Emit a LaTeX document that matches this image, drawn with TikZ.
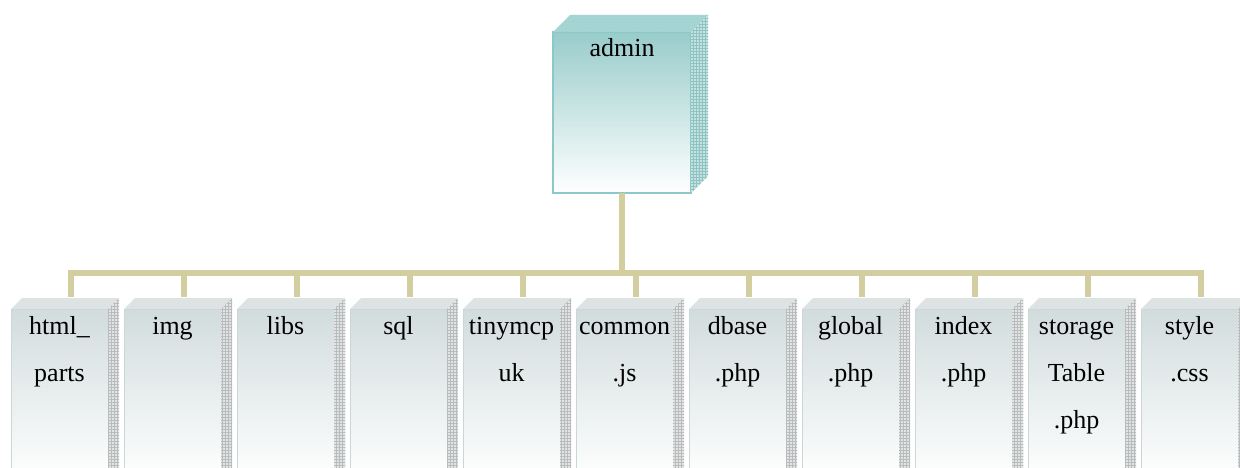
\documentclass[tikz,border=0pt]{standalone}
\usepackage{fontspec}
\setmainfont{Liberation Serif}
\usetikzlibrary{patterns,calc}
\definecolor{bus}{HTML}{D2CEA0}
\definecolor{admtop}{HTML}{98CCCB}
\definecolor{admedge}{HTML}{8CC8C7}
\definecolor{admface}{HTML}{A3D3D2}
\definecolor{admside}{HTML}{C4E2E1}
\definecolor{admpat}{HTML}{8FC3C2}
\definecolor{kidtop}{HTML}{D2DCDD}
\definecolor{kidedge}{HTML}{CBD6D7}
\definecolor{kidface}{HTML}{DDE3E3}
\definecolor{kidside}{HTML}{E2E4E4}
\definecolor{kidpat}{HTML}{B8BCBC}
\tikzset{
  conn/.style={draw=bus, line width=6pt, line join=miter},
  adminbox/.style={draw=admedge, line width=1.5pt, top color=admtop, bottom color=white,
     minimum width=138pt, minimum height=161pt, anchor=north west, inner sep=0pt, outer sep=0pt},
  kidbox/.style={draw=kidedge, line width=1pt, top color=kidtop, bottom color=white,
     minimum width=97pt, minimum height=172pt, anchor=north west, inner sep=0pt, outer sep=0pt},
  lbl/.style={anchor=base, inner sep=0pt, font=\fontsize{26}{47}\selectfont},
}
\newcommand{\boxfaces}[6]{% name, depth, topfill, sidefill, edge, pattern colour
  \fill[#3] (#1.north west) -- ++(#2,-#2) -- ($(#1.north east)+(#2,-#2)$) -- (#1.north east) -- cycle;
  \fill[pattern=dots, pattern color=#5!50] (#1.north west) -- ++(#2,-#2) -- ($(#1.north east)+(#2,-#2)$) -- (#1.north east) -- cycle;
  \fill[#4] (#1.north east) -- ++(#2,-#2) -- ($(#1.south east)+(#2,-#2)$) -- (#1.south east) -- cycle;
  \fill[pattern=grid, pattern color=#6] (#1.north east) -- ++(#2,-#2) -- ($(#1.south east)+(#2,-#2)$) -- (#1.south east) -- cycle;
}
\begin{document}
\begin{tikzpicture}[x=1pt,y=-1pt]
\fill[white] (0,0) rectangle (1240,468);
\useasboundingbox (0,0) rectangle (1240,468);
\clip (0,0) rectangle (1240,468);
% admin
\node[adminbox] (admin) at (553,32) {};
\coordinate (bus) at (622,273);
\draw[conn] (admin.south) -- (bus);
% children
\foreach \i in {1,...,11}{
  \pgfmathsetmacro{\L}{11+113*(\i-1)}
  \coordinate (t\i) at (\L+60,297);
  \draw[conn] (t\i) |- (bus);
}
\boxfaces{admin}{17}{admface}{admside}{admedge}{admpat}
\node[lbl] (admintxt) at (622,57) {admin};
\foreach \i/\t in {1/{html\_\\parts},2/{img},3/{libs},4/{sql},5/{tinymcp\\uk},6/{common\\.js},7/{dbase\\.php},8/{global\\.php},9/{index\\.php},10/{storage\\Table\\.php},11/{style\\.css}}{
  \pgfmathsetmacro{\L}{11+113*(\i-1)}
  \node[kidbox] (c\i) at (\L,309) {};
  \boxfaces{c\i}{11}{kidface}{kidside}{kidedge}{kidpat}
  \node[lbl] (l\i) at (\L+48.5,334) {\parbox[t]{110pt}{\centering\fontsize{26}{47}\selectfont \t}};
}
\end{tikzpicture}
\end{document}
